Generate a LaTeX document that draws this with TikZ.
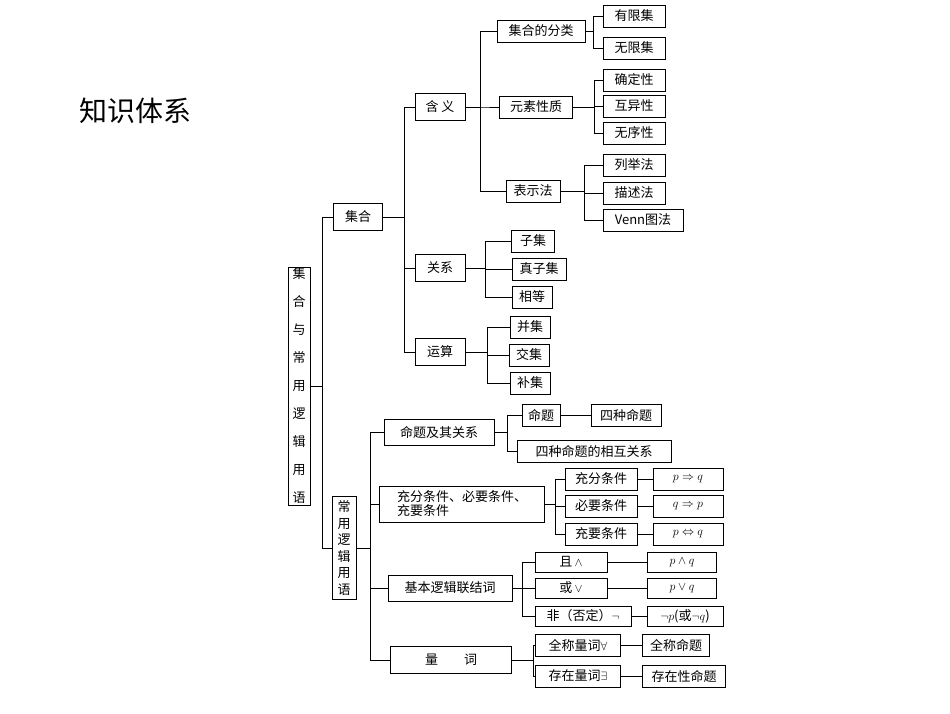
\documentclass[tikz,border=0pt]{standalone}
\usepackage{fontspec}
\setmainfont{Noto Sans CJK SC}
\usetikzlibrary{calc}
\begin{document}
\begin{tikzpicture}[x=1pt,y=-1pt,
  bx/.style={draw,line width=1pt,inner sep=1pt,minimum height=22pt,font=\fontsize{13}{14}\selectfont},
  ln/.style={line width=1pt}]
\useasboundingbox (0,0) rectangle (950,713);
\node[font=\fontsize{28}{30}\selectfont] (title) at (135,111) {知识体系};
% root
\node[bx,minimum width=22pt,minimum height=238pt,align=center,font=\fontsize{13}{28}\selectfont] (root) at (299,386) {集\\合\\与\\常\\用\\逻\\辑\\用\\语};
\node[bx,minimum width=49pt,minimum height=27pt] (jh) at (358,217) {集合};
\node[bx,minimum width=24pt,minimum height=103pt,align=center,font=\fontsize{13}{16.5}\selectfont] (cy) at (344,548) {常\\用\\逻\\辑\\用\\语};
% 集合 branch
\node[bx,minimum width=50pt,minimum height=27pt] (hy) at (440,107) {含\ 义};
\node[bx,minimum width=50pt,minimum height=27pt] (gx) at (440,268) {关系};
\node[bx,minimum width=50pt,minimum height=27pt] (ys) at (440,352) {运算};
\node[bx,minimum width=88pt] (fl) at (541,31) {集合的分类};
\node[bx,minimum width=73pt] (xz) at (536,107) {元素性质};
\node[bx,minimum width=54pt] (bs) at (533,191) {表示法};
\node[bx,minimum width=62pt] (yx) at (634,16) {有限集};
\node[bx,minimum width=62pt] (wx) at (634,48) {无限集};
\node[bx,minimum width=62pt] (qd) at (634,80) {确定性};
\node[bx,minimum width=62pt] (hyx) at (634,106) {互异性};
\node[bx,minimum width=62pt] (wxx) at (634,133) {无序性};
\node[bx,minimum width=62pt] (lj) at (634,165) {列举法};
\node[bx,minimum width=62pt] (ms) at (634,193) {描述法};
\node[bx,minimum width=80pt] (venn) at (643,220) {Venn图法};
\node[bx,minimum width=43pt] (zj) at (533,241) {子集};
\node[bx,minimum width=54pt] (zzj) at (539,269) {真子集};
\node[bx,minimum width=40pt] (xd) at (532,297) {相等};
\node[bx,minimum width=40pt] (bj) at (530,327) {并集};
\node[bx,minimum width=40pt] (jj) at (529,355) {交集};
\node[bx,minimum width=40pt] (bu) at (530,383) {补集};
% 常用逻辑用语 branch
\node[bx,minimum width=110pt,minimum height=26pt] (mt) at (439,432) {命题及其关系};
\node[bx,minimum width=165pt,minimum height=36pt,align=left,font=\fontsize{13}{14}\selectfont] (cf) at (462,504) {充分条件、必要条件、\\充要条件};
\node[bx,minimum width=124pt,minimum height=26pt] (lj2) at (450,588) {基本逻辑联结词};
\node[bx,minimum width=121pt,minimum height=27pt] (lc) at (451,660) {量\qquad 词};
\node[bx,minimum width=38pt] (mt1) at (541,415) {命题};
\node[bx,minimum width=70pt] (sz) at (626,415) {四种命题};
\node[bx,minimum width=154pt] (szgx) at (594,451) {四种命题的相互关系};
\node[bx,minimum width=72pt] (c1) at (601,479) {充分条件};
\node[bx,minimum width=72pt] (c2) at (601,506) {必要条件};
\node[bx,minimum width=72pt] (c3) at (601,534) {充要条件};
\node[bx,minimum width=70pt] (f1) at (688,479) {$p\Rightarrow q$};
\node[bx,minimum width=70pt] (f2) at (688,506) {$q\Rightarrow p$};
\node[bx,minimum width=70pt] (f3) at (688,534) {$p\Leftrightarrow q$};
\node[bx,minimum width=72pt,minimum height=20pt] (q1) at (571,562) {且\,$\wedge$};
\node[bx,minimum width=72pt,minimum height=20pt] (q2) at (571,588) {或\,$\vee$};
\node[bx,minimum width=96pt,minimum height=20pt] (q3) at (583,616) {非（否定）$\neg$};
\node[bx,minimum width=69pt,minimum height=20pt] (g1) at (682,562) {$p\wedge q$};
\node[bx,minimum width=69pt,minimum height=20pt] (g2) at (682,588) {$p\vee q$};
\node[bx,minimum width=76pt,minimum height=20pt] (g3) at (685,616) {$\neg p$(或$\neg q$)};
\node[bx,minimum width=85pt] (l1) at (578,645) {全称量词$\forall$};
\node[bx,minimum width=85pt] (l2) at (578,676) {存在量词$\exists$};
\node[bx,minimum width=67pt] (m1) at (676,645) {全称命题};
\node[bx,minimum width=83pt] (m2) at (684,676) {存在性命题};
% connectors
\newcommand{\brch}[3]{\path (#1.east) ++(#2,0) coordinate (t-#1);
  \foreach \c in {#3} \draw[ln] (#1.east) -- (t-#1) |- (\c.west);}
\brch{root}{12}{jh,cy}
\brch{jh}{21}{hy,gx,ys}
\brch{hy}{15}{fl,xz,bs}
\brch{fl}{8}{yx,wx}
\brch{xz}{21}{qd,hyx,wxx}
\brch{bs}{24}{lj,ms,venn}
\brch{gx}{20}{zj,zzj,xd}
\brch{ys}{22}{bj,jj,bu}
\brch{cy}{14}{mt,cf,lj2,lc}
\brch{mt}{13}{mt1,szgx}
\brch{cf}{10}{c1,c2,c3}
\brch{lj2}{10}{q1,q2,q3}
\brch{lc}{21}{l1,l2}
\draw[ln] (mt1) -- (sz);
\foreach \a/\b in {c1/f1,c2/f2,c3/f3,q1/g1,q2/g2,q3/g3,l1/m1,l2/m2} \draw[ln] (\a) -- (\b);
\end{tikzpicture}
\end{document}
